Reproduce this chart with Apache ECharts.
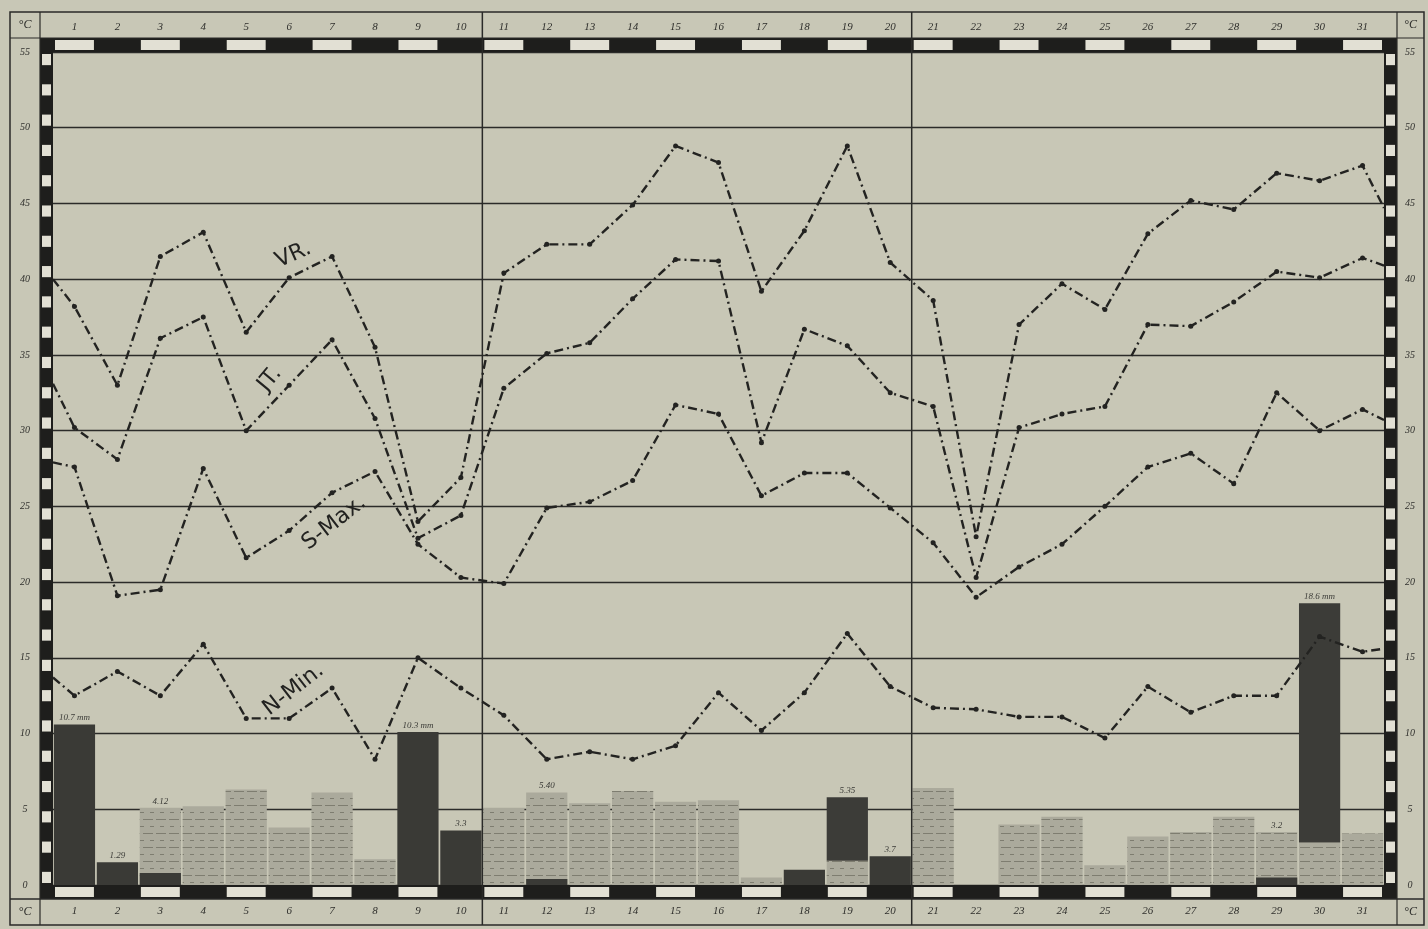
<!DOCTYPE html>
<html><head><meta charset="utf-8">
<script src="https://cdn.jsdelivr.net/npm/echarts@6/dist/echarts.min.js"></script>
<style>html,body{margin:0;padding:0;background:#c8c7b6;}#c{width:1428px;height:929px;}</style>
</head><body><div id="c"></div>
<script>
// ---- data ----
const days = ['1','2','3','4','5','6','7','8','9','10','11','12','13','14','15','16','17','18','19','20','21','22','23','24','25','26','27','28','29','30','31'];
// line points: month start carry-over, days 1..31, month end carry-over
const linePositions = [0.5,1,2,3,4,5,6,7,8,9,10,11,12,13,14,15,16,17,18,19,20,21,22,23,24,25,26,27,28,29,30,31,31.5];
const vr   = [40.0,38.2,33.0,41.5,43.1,36.5,40.1,41.5,35.5,24.0,26.9,40.4,42.3,42.3,44.9,48.8,47.7,39.2,43.2,48.8,41.1,38.6,23.0,37.0,39.7,38.0,43.0,45.2,44.6,47.0,46.5,47.5,44.7];
const jt   = [33.1,30.2,28.1,36.1,37.5,30.0,33.0,36.0,30.8,22.9,24.4,32.8,35.1,35.8,38.7,41.3,41.2,29.2,36.7,35.6,32.5,31.6,20.3,30.2,31.1,31.6,37.0,36.9,38.5,40.5,40.1,41.4,40.9];
const sMax = [27.9,27.6,19.1,19.5,27.5,21.6,23.4,25.9,27.3,22.5,20.3,19.9,24.9,25.3,26.7,31.7,31.1,25.7,27.2,27.2,24.9,22.6,19.0,21.0,22.5,25.0,27.6,28.5,26.5,32.5,30.0,31.4,30.7];
const nMin = [13.7,12.5,14.1,12.5,15.9,11.0,11.0,13.0,8.3,15.0,13.0,11.2,8.3,8.8,8.3,9.2,12.7,10.2,12.7,16.6,13.1,11.7,11.6,11.1,11.1,9.7,13.1,11.4,12.5,12.5,16.4,15.4,15.6];
// bars (same scale)
const lightBars = [0,0,5.1,5.2,6.3,3.8,6.1,1.7,0,0,5.1,6.1,5.4,6.2,5.5,5.6,0.5,0,1.6,0,6.4,0,4.0,4.5,1.3,3.2,3.5,4.5,3.5,2.8,3.4];
const upperDarkBars = [0,0,0,0,0,0,0,0,0,0,0,0,0,0,0,0,0,0,4.2,0,0,0,0,0,0,0,0,0,0,15.8,0];
const lowerDarkBars = [10.6,1.5,0.8,0,0,0,0,0,10.1,3.6,0,0.4,0,0,0,0,0,1.0,0,1.9,0,0,0,0,0,0,0,0,0.5,0,0];
const barNotes = ['10.7 mm','1.29','4.12','','','','','','10.3 mm','3.3','','5.40','','','','','','','5.35','3.7','','','','','','','','','3.2','18.6 mm',''];
const yTicks = {min:0, max:55, step:5};
const lineNames = ['VR.','JT.','S-Max.','N-Min.'];

const INK = '#232321';
const pairs = arr => arr.map((v,i)=>[linePositions[i], v]);
const symSize = (v,p) => (p.dataIndex===0 || p.dataIndex===linePositions.length-1) ? 0 : 5;
const lineSeries = (name, arr) => ({
  name, type:'line', xAxisIndex:2, yAxisIndex:0, data:pairs(arr), z:5,
  symbol:'circle', symbolSize:symSize, showSymbol:true,
  itemStyle:{color:INK}, lineStyle:{color:INK, width:2.4, type:[9,4,2,4]},
  emphasis:{disabled:true}
});
const noteFmt = which => p => {
  const i = p.dataIndex, l = lightBars[i], u = upperDarkBars[i], d = lowerDarkBars[i];
  const top = Math.max(l+u, d);
  let owner = 'none';
  if (top>0) owner = (d >= l+u) ? 'lower' : (u>0 ? 'upper' : 'light');
  return owner===which ? barNotes[i] : '';
};
const noteLabel = which => ({show:true, position:'top', distance:2, formatter:noteFmt(which),
  fontSize:9, fontStyle:'italic', color:'#3a3a36', fontFamily:'Liberation Serif'});

const axisLabelStyle = {fontStyle:'italic', fontSize:11, color:'#2f2f2c', fontFamily:'Liberation Serif'};

const option = {
  backgroundColor:'#c8c7b6',
  animation:false,
  grid:{left:53, right:44, top:52, bottom:44, containLabel:false},
  xAxis:[
    {type:'category', data:days, position:'bottom', axisLine:{show:false}, axisTick:{show:false},
     axisLabel:Object.assign({margin:21, interval:0}, axisLabelStyle), splitLine:{show:false}},
    {type:'category', data:days, position:'top', axisLine:{show:false}, axisTick:{show:false},
     axisLabel:Object.assign({margin:19, interval:0}, axisLabelStyle), splitLine:{show:false}},
    {type:'value', min:0.5, max:31.5, show:false}
  ],
  yAxis:[
    {type:'value', min:yTicks.min, max:yTicks.max, interval:yTicks.step, position:'left',
     axisLine:{show:false}, axisTick:{show:false},
     axisLabel:Object.assign({margin:28, align:'center'}, axisLabelStyle, {fontSize:10}),
     splitLine:{show:true, lineStyle:{color:'#2b2b29', width:1.4}}},
    {type:'value', min:yTicks.min, max:yTicks.max, interval:yTicks.step, position:'right',
     axisLine:{show:false}, axisTick:{show:false},
     axisLabel:Object.assign({margin:26, align:'center'}, axisLabelStyle, {fontSize:10}),
     splitLine:{show:false}}
  ],
  series:[
    {name:'light', type:'bar', stack:'c', xAxisIndex:0, yAxisIndex:0, data:lightBars, z:2,
     barCategoryGap:'4%', barGap:'-100%',
     itemStyle:{color:'#abaa9c', decal:{symbol:'rect', symbolSize:1, dashArrayX:[[10,3],[4,6]], dashArrayY:[1,6], color:'rgba(70,70,60,0.45)'}},
     label:noteLabel('light'), emphasis:{disabled:true}},
    {name:'upperDark', type:'bar', stack:'c', xAxisIndex:0, yAxisIndex:0, data:upperDarkBars, z:2,
     barCategoryGap:'4%', barGap:'-100%', itemStyle:{color:'#3c3c38'},
     label:noteLabel('upper'), emphasis:{disabled:true}},
    {name:'lowerDark', type:'bar', xAxisIndex:0, yAxisIndex:0, data:lowerDarkBars, z:3,
     barCategoryGap:'4%', barGap:'-100%', itemStyle:{color:'#3a3a36'},
     label:noteLabel('lower'), emphasis:{disabled:true}},
    lineSeries('VR', vr),
    lineSeries('JT', jt),
    lineSeries('S-Max', sMax),
    lineSeries('N-Min', nMin)
  ]
};

const chart = echarts.init(document.getElementById('c'));
chart.setOption(option);

const px = d => chart.convertToPixel({xAxisIndex:2}, d);
const py = v => chart.convertToPixel({yAxisIndex:0}, v);
const gl = px(0.5), gr = px(31.5), gt = py(55), gb = py(0);
const FL = 10, FR = 1424, FT = 12, FB = 925;
const g = [];
const rect = (x,y,w,h,fill,z) => g.push({type:'rect', shape:{x,y,width:w,height:h}, style:{fill, stroke:null}, z:z||1, silent:true});
const line = (x1,y1,x2,y2,w) => g.push({type:'line', shape:{x1,y1,x2,y2}, style:{stroke:'#2a2a28', lineWidth:w||1.4}, z:4, silent:true});
const txt = (x,y,t,opt) => g.push(Object.assign({type:'text', x, y, style:Object.assign({text:t, fill:'#2f2f2c', font:'italic 12px "Liberation Serif"', align:'center', verticalAlign:'middle'}, opt||{}), z:6, silent:true}));
const WHITE = '#e2e0d4';
// top & bottom day strips
const stripH = 14;
rect(gl, gt-stripH, gr-gl, stripH, '#1e1e1c');
rect(gl, gb, gr-gl, stripH, '#1e1e1c');
for (let d=1; d<=31; d++) {
  if (d%2===1) {
    const x0 = px(d-0.5), x1 = px(d+0.5);
    rect(x0+2, gt-stripH+2, x1-x0-4, stripH-4, WHITE, 2);
    rect(x0+2, gb+2, x1-x0-4, stripH-4, WHITE, 2);
  }
}
// left & right degree strips
const sw = 13;
rect(gl-sw, gt-stripH, sw, gb+stripH-(gt-stripH), '#1e1e1c');
rect(gr, gt-stripH, sw, gb+stripH-(gt-stripH), '#1e1e1c');
for (let k=0; k<55; k++) {
  if (k%2===0) {
    const y0 = py(k+1), y1 = py(k);
    rect(gl-sw+2, y0+2, sw-4, y1-y0-4, WHITE, 2);
    rect(gr+2, y0+2, sw-4, y1-y0-4, WHITE, 2);
  }
}
// frame & separators
g.push({type:'rect', shape:{x:FL, y:FT, width:FR-FL, height:FB-FT}, style:{fill:null, stroke:'#2a2a28', lineWidth:1.5}, z:4, silent:true});
line(FL, gt-stripH, FR, gt-stripH, 1.2);
line(FL, gb+stripH, FR, gb+stripH, 1.4);
line(gl-sw, FT, gl-sw, FB, 1.2);
line(gr+sw, FT, gr+sw, FB, 1.2);
line(px(10.5), FT, px(10.5), FB, 1.5);
line(px(20.5), FT, px(20.5), FB, 1.5);
// corner unit labels
txt((FL+gl-sw)/2, (FT+gt-stripH)/2, '°C');
txt((gr+sw+FR)/2, (FT+gt-stripH)/2, '°C');
txt((FL+gl-sw)/2, (gb+stripH+FB)/2, '°C');
txt((gr+sw+FR)/2, (gb+stripH+FB)/2, '°C');
// series name labels along their lines
const nameSpots = [[6.1,41.6,0.42],[5.55,33.4,0.88],[7.05,23.9,0.66],[6.1,12.9,0.66]];
lineNames.forEach((n,i)=>{
  const s = nameSpots[i];
  g.push({type:'text', x:px(s[0]), y:py(s[1]), rotation:s[2],
    style:{text:n, fill:'#222220', font:'22px "DejaVu Sans"', align:'center', verticalAlign:'middle'}, z:7, silent:true});
});
chart.setOption({graphic:{elements:g}});
</script>
</body></html>
